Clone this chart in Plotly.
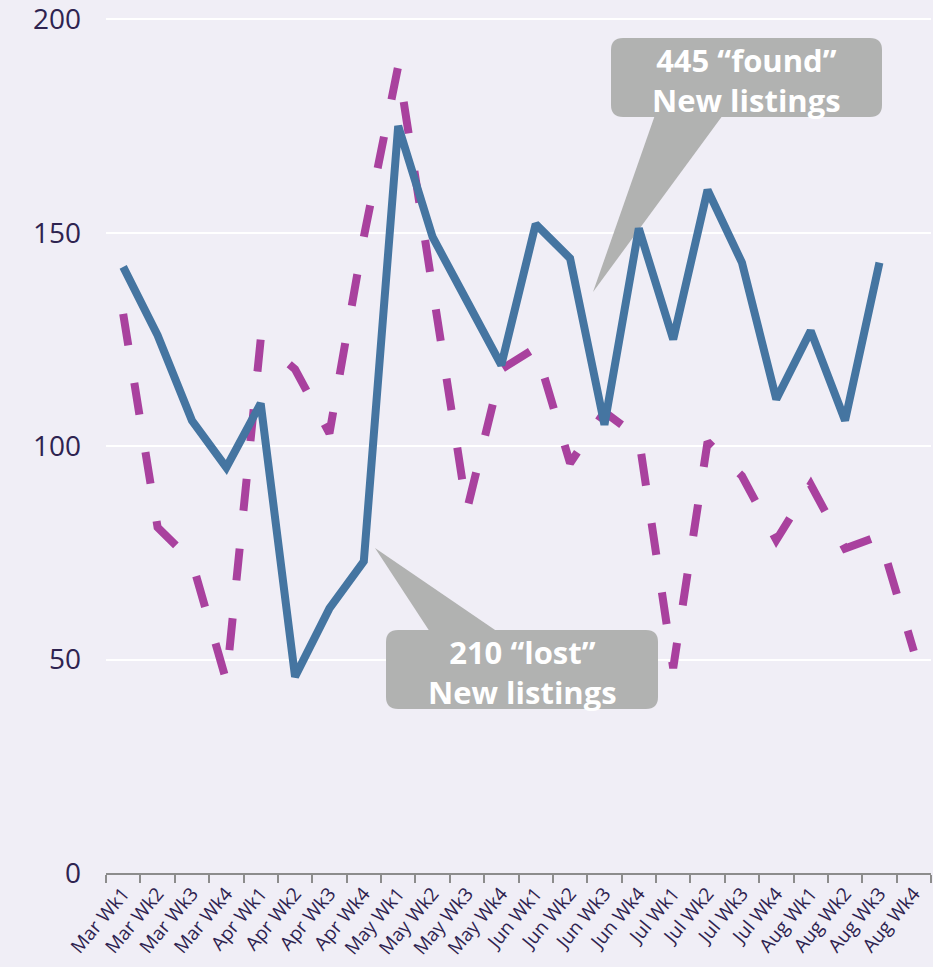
import plotly.graph_objects as go

categories = ["Mar Wk1", "Mar Wk2", "Mar Wk3", "Mar Wk4",
              "Apr Wk1", "Apr Wk2", "Apr Wk3", "Apr Wk4",
              "May Wk1", "May Wk2", "May Wk3", "May Wk4",
              "Jun Wk1", "Jun Wk2", "Jun Wk3", "Jun Wk4",
              "Jul Wk1", "Jul Wk2", "Jul Wk3", "Jul Wk4",
              "Aug Wk1", "Aug Wk2", "Aug Wk3", "Aug Wk4"]

found = [142, 126, 106, 95, 110, 46, 62, 73, 175, 149, 134, 119,
         152, 144, 105, 151, 125, 160, 143, 111, 127, 106, 143, None]

lost = [131, 81, 73, 45, 125, 118, 103, 149, 189, 137, 85, 118,
        123, 96, 108, 102, 48, 101, 93, 78, 91, 76, 79, 52]

y_ticks = [0, 50, 100, 150, 200]

W, H = 933, 967
ML, MR, MT, MB = 106, 2, 15, 94
PW = W - ML - MR
PH = H - MT - MB
NCAT = len(categories)
YMAX = 201


def px2x(px):
    return (px - ML) / (PW / NCAT) - 0.5


def py2y(py):
    return (H - MB - py) / (PH / YMAX)


def rrect(x0, y0, x1, y1, r):
    rx = r / (PW / NCAT)
    ry = r / (PH / YMAX)
    X0, X1 = px2x(x0), px2x(x1)
    YT, YB = py2y(y0), py2y(y1)
    return (f"M {X0+rx},{YT} L {X1-rx},{YT} Q {X1},{YT} {X1},{YT-ry} "
            f"L {X1},{YB+ry} Q {X1},{YB} {X1-rx},{YB} "
            f"L {X0+rx},{YB} Q {X0},{YB} {X0},{YB+ry} "
            f"L {X0},{YT-ry} Q {X0},{YT} {X0+rx},{YT} Z")


def tri(a, b, c):
    return (f"M {px2x(a[0])},{py2y(a[1])} L {px2x(b[0])},{py2y(b[1])} "
            f"L {px2x(c[0])},{py2y(c[1])} Z")


BLUE = "#4575a1"
MAGENTA = "#a9419e"
GRAY = "#b1b2b1"
TEXT = "#2e2350"
BG = "#f0eef6"

fig = go.Figure()
fig.add_trace(go.Scatter(x=categories, y=lost, mode="lines",
                         line=dict(color=MAGENTA, width=8, dash="32px,38px"),
                         name="lost", connectgaps=False))
fig.add_trace(go.Scatter(x=categories, y=found, mode="lines",
                         line=dict(color=BLUE, width=8),
                         name="found", connectgaps=False))

shapes = [
    dict(type="path", xref="x", yref="y", layer="between",
         path=tri((655, 115), (723, 115), (593, 292)),
         fillcolor=GRAY, line=dict(width=0)),
    dict(type="path", xref="x", yref="y", layer="between",
         path=rrect(611, 38, 882, 117, 12),
         fillcolor=GRAY, line=dict(width=0)),
    dict(type="path", xref="x", yref="y", layer="between",
         path=tri((430, 632), (498, 632), (375, 548)),
         fillcolor=GRAY, line=dict(width=0)),
    dict(type="path", xref="x", yref="y", layer="between",
         path=rrect(386, 630, 658, 709, 12),
         fillcolor=GRAY, line=dict(width=0)),
]

annotations = [
    dict(x=px2x(746.5), y=py2y(80), xref="x", yref="y", showarrow=False,
         text="445 “found”<br>New listings", align="center",
         font=dict(family="Open Sans", size=31, color="white", weight="bold")),
    dict(x=px2x(522), y=py2y(672), xref="x", yref="y", showarrow=False,
         text="210 “lost”<br>New listings", align="center",
         font=dict(family="Open Sans", size=31, color="white", weight="bold")),
]

fig.update_layout(
    width=W, height=H,
    margin=dict(l=ML, r=MR, t=MT, b=MB, autoexpand=False),
    paper_bgcolor=BG, plot_bgcolor=BG,
    showlegend=False,
    shapes=shapes,
    annotations=annotations,
    font=dict(family="Open Sans", color=TEXT),
)
fig.update_xaxes(
    type="category", categoryorder="array", categoryarray=categories,
    range=[-0.5, NCAT - 0.5], automargin=False,
    showgrid=False, showline=True, linecolor="#8c8c8c", linewidth=2,
    ticks="outside", tickson="boundaries", ticklen=8, tickcolor="#8c8c8c",
    tickwidth=1.5, tickangle=-50,
    tickfont=dict(size=19, color=TEXT),
)
fig.update_yaxes(
    range=[0, YMAX], tickvals=y_ticks, showgrid=True, gridcolor="white",
    gridwidth=2, zeroline=False, showline=False, automargin=False,
    ticklabelstandoff=24, ticklabeloverflow="allow",
    tickfont=dict(size=28, color=TEXT),
)

fig.write_html("out.html",
               config={"displayModeBar": False},
               post_script="document.body.style.margin='0';"
                           "document.body.style.background='%s';" % BG)
